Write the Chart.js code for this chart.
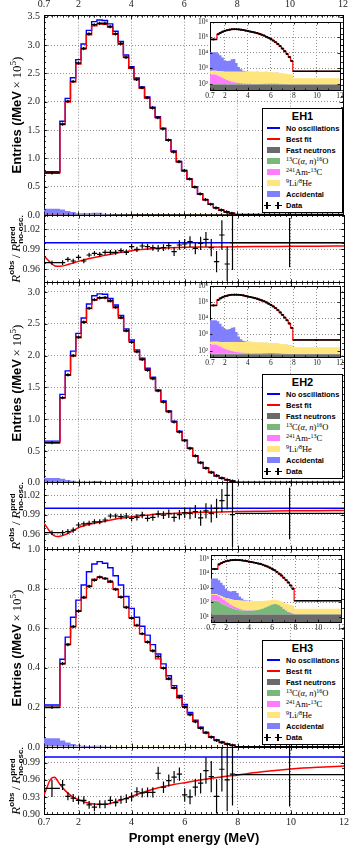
<!DOCTYPE html>
<html><head><meta charset="utf-8">
<script src="https://cdn.jsdelivr.net/npm/chart.js@4.4.1/dist/chart.umd.min.js"></script>
<style>
html,body{margin:0;padding:0;background:#fff;}
#wrap{position:relative;width:353px;height:857px;overflow:hidden;background:#fff;}
#wrap canvas{position:absolute;left:0;top:0;}
.ytitle{position:absolute;white-space:nowrap;transform:translate(-50%,-50%) rotate(-90deg);color:#000;line-height:1;z-index:6;}
.sansb{font-family:'Liberation Sans',Arial,sans-serif;font-weight:bold;}
.serif{font-family:'Liberation Serif','DejaVu Serif',serif;}
.leg{position:absolute;box-sizing:border-box;border:1px solid #000;background:#fff;z-index:5;}
.legT{position:absolute;left:0;right:0;text-align:center;font:bold 11px 'Liberation Sans',Arial,sans-serif;transform:translateY(-50%);}
.legL{position:absolute;left:23px;white-space:nowrap;transform:translateY(-50%);line-height:1;}
.legL.san{font:bold 7.5px 'Liberation Sans',Arial,sans-serif;}
.legL.ser{font:8.5px 'Liberation Serif','DejaVu Serif',serif;}
.legL.ser sup{font-size:6px;vertical-align:3px;line-height:0;}
.xtitle{position:absolute;left:194px;top:837px;transform:translate(-50%,-50%);white-space:nowrap;font:bold 13px 'Liberation Sans',Arial,sans-serif;}
</style>
</head><body>
<div id="wrap"></div>
<script>
// ---------------- data ----------------
const binEdges = [0.7,1.3,1.5,1.7,1.9,2.1,2.3,2.5,2.7,2.9,3.1,3.3,3.5,3.7,3.9,4.1,4.3,4.5,4.7,4.9,5.1,5.3,5.5,5.7,5.9,6.1,6.3,6.5,6.7,6.9,7.1,7.3,7.5,7.7,7.9,12];
const xTicks = [0.7,2,4,6,8,10,12];

// main panels: entries per MeV in units of 1e5
const eh1NoOsc   = [0.765,1.655,2.06,2.425,2.745,3.02,3.26,3.415,3.445,3.435,3.375,3.245,3.065,2.825,2.62,2.42,2.26,2.085,1.905,1.735,1.535,1.33,1.13,0.945,0.785,0.635,0.495,0.372,0.272,0.191,0.131,0.0855,0.0553,0.0302,0.0065];
const eh1BestFit = [0.745,1.599,1.994,2.352,2.668,2.941,3.182,3.340,3.376,3.370,3.318,3.193,3.019,2.788,2.589,2.393,2.237,2.066,1.888,1.721,1.523,1.321,1.122,0.938,0.780,0.631,0.492,0.370,0.270,0.190,0.130,0.0850,0.0550,0.0300,0.0064];
const eh1Data    = [0.742,1.605,2.009,2.358,2.685,2.937,3.200,3.360,3.385,3.385,3.326,3.198,3.028,2.784,2.604,2.396,2.249,2.072,1.891,1.720,1.523,1.324,1.115,0.942,0.783,0.636,0.491,0.372,0.273,0.190,0.127,0.0865,0.0535,0.0302,0.0065];
const eh2NoOsc   = [0.655,1.39,1.76,2.07,2.35,2.59,2.81,2.94,2.97,2.965,2.90,2.795,2.63,2.42,2.245,2.09,1.96,1.80,1.66,1.46,1.285,1.13,0.97,0.81,0.67,0.545,0.425,0.32,0.233,0.164,0.112,0.074,0.047,0.026,0.0046];
const eh2BestFit = [0.630,1.332,1.691,1.998,2.280,2.520,2.740,2.872,2.908,2.909,2.848,2.750,2.591,2.386,2.216,2.065,1.938,1.782,1.643,1.446,1.273,1.120,0.962,0.804,0.665,0.541,0.422,0.318,0.231,0.163,0.111,0.0735,0.0467,0.0258,0.0046];
const eh2Data    = [0.630,1.337,1.696,2.000,2.289,2.527,2.744,2.878,2.908,2.911,2.865,2.761,2.596,2.391,2.210,2.061,1.939,1.772,1.637,1.447,1.272,1.120,0.956,0.802,0.665,0.541,0.423,0.315,0.232,0.163,0.112,0.0749,0.0479,0.0257,0.0045];
const eh3NoOsc   = [0.212,0.443,0.555,0.655,0.742,0.818,0.885,0.924,0.936,0.928,0.905,0.865,0.818,0.76,0.70,0.655,0.61,0.565,0.517,0.47,0.42,0.36,0.31,0.26,0.215,0.175,0.135,0.10,0.074,0.052,0.036,0.024,0.015,0.009,0.0013];
const eh3BestFit = [0.200,0.420,0.519,0.608,0.686,0.753,0.812,0.847,0.857,0.851,0.832,0.797,0.756,0.705,0.652,0.612,0.572,0.531,0.488,0.445,0.399,0.342,0.296,0.249,0.206,0.168,0.130,0.096,0.071,0.050,0.035,0.023,0.0145,0.0087,0.00127];
const eh3Data    = [0.200,0.421,0.517,0.608,0.686,0.756,0.811,0.843,0.858,0.851,0.836,0.796,0.757,0.705,0.651,0.615,0.572,0.530,0.485,0.457,0.398,0.345,0.299,0.252,0.201,0.163,0.128,0.0954,0.0722,0.0502,0.0335,0.0235,0.0144,0.0087,0.00126];

// ratio panels
const eh1RatioData = [0.970,0.970,0.975,0.9725,0.978,0.9725,0.9815,0.984,0.9825,0.9855,0.9855,0.9855,0.988,0.9855,0.994,0.990,0.995,0.994,0.9925,0.9915,0.9925,0.9955,0.9865,0.9965,0.998,1.0015,0.9915,0.999,1.005,0.9925,0.9715,1.0115,0.968,1.000,1.000];
const eh1RatioErr  = [0.003,0.0035,0.0035,0.0035,0.0035,0.0035,0.0035,0.0035,0.0035,0.0035,0.0035,0.0035,0.0035,0.004,0.004,0.004,0.004,0.0045,0.0045,0.005,0.005,0.0055,0.0065,0.007,0.0075,0.008,0.009,0.01,0.011,0.013,0.016,0.022,0.026,0.041,0.037];
const eh2RatioData = [0.962,0.962,0.9636,0.966,0.974,0.9756,0.9766,0.979,0.979,0.9818,0.988,0.988,0.987,0.988,0.9844,0.986,0.9895,0.9844,0.986,0.991,0.9895,0.9915,0.986,0.990,0.993,0.992,0.995,0.985,0.996,0.992,1.000,1.012,1.020,0.990,0.992];
const eh2RatioErr  = [0.0035,0.004,0.004,0.004,0.004,0.004,0.004,0.004,0.004,0.004,0.004,0.004,0.0045,0.0045,0.0045,0.005,0.005,0.005,0.0055,0.0055,0.006,0.0065,0.007,0.0075,0.008,0.009,0.01,0.012,0.012,0.014,0.015,0.018,0.022,0.05,0.04];
const eh3RatioData = [0.945,0.951,0.931,0.928,0.924,0.924,0.916,0.912,0.917,0.917,0.924,0.920,0.925,0.927,0.930,0.939,0.937,0.938,0.938,0.9715,0.947,0.9586,0.9645,0.970,0.9337,0.930,0.947,0.954,0.976,0.9656,0.931,0.9785,0.960,0.970,0.969];
const eh3RatioErr  = [0.015,0.0087,0.007,0.007,0.007,0.007,0.007,0.007,0.007,0.007,0.007,0.007,0.007,0.0075,0.0075,0.008,0.008,0.0085,0.009,0.0115,0.01,0.0105,0.011,0.0115,0.0116,0.013,0.015,0.018,0.023,0.0275,0.030,0.039,0.055,0.055,0.056];
const fitEnergy   = [0.7,0.8,0.9,1.0,1.1,1.2,1.3,1.5,1.75,2.0,2.5,3.0,3.5,4.0,4.5,5.0,5.5,6.0,7.0,8.0,9.0,10.0,11.0,12.0];
const eh1FitRatio = [0.980,0.976,0.972,0.968,0.9655,0.9646,0.9648,0.966,0.969,0.972,0.977,0.981,0.985,0.988,0.990,0.9915,0.9925,0.993,0.9935,0.994,0.9942,0.9945,0.9947,0.995];
const eh2FitRatio = [0.9766,0.971,0.965,0.960,0.957,0.956,0.9565,0.959,0.964,0.970,0.976,0.980,0.984,0.987,0.989,0.991,0.992,0.993,0.994,0.995,0.9955,0.996,0.9962,0.9965];
const eh3FitRatio = [0.9337,0.945,0.957,0.9635,0.9645,0.959,0.952,0.941,0.931,0.925,0.918,0.917,0.923,0.931,0.939,0.946,0.951,0.955,0.9625,0.9686,0.9745,0.979,0.982,0.984];
const noOscRatioEnergy = [0.7,12];
const noOscRatio = [1,1];

// backgrounds, entries per MeV
const eh1FastN = [90,90,90,90,90,90,90,90,90,90,90,90,90,90,90,90,90,90,90,90,90,90,90,90,90,90,90,90,90,90,90,90,90,90,90];
const eh1C13   = [8,8,7,6,6,5,5,4,4,4,4,4,4,4,4,4,4,5,5,6,7,8,9,10,11,11,10,9,7,5,3,2,1,1,0.5];
const eh1AmC   = [300,240,190,140,105,80,60,45,35,27,21,16,12,9,7,6,5,4,3.5,3,2.5,2,2,1.5,1.5,1.2,1,1,1,1,1,1,1,1,1];
const eh1Li9   = [300,330,360,390,410,430,450,470,480,490,500,505,510,515,520,520,520,520,515,510,505,500,490,480,470,460,450,430,410,390,370,350,330,310,140];
const eh1Acc   = [10500,9000,6300,4500,2700,2400,2500,3300,3400,1600,600,250,100,50,30,20,15,12,10,8,7,6,5,4,3,3,2,2,2,2,1,1,1,1,0.5];
const eh2FastN = [60,60,60,60,60,60,60,60,60,60,60,60,60,60,60,60,60,60,60,60,60,60,60,60,60,60,60,60,60,60,60,60,60,60,60];
const eh2C13   = [7,7,6,6,5,5,4,4,4,4,4,4,4,4,4,4,4,5,5,6,7,8,9,10,10,10,9,8,6,4,3,2,1,1,0.5];
const eh2AmC   = [170,140,110,85,65,50,38,30,24,19,15,12,9,7,6,5,4,3.5,3,2.5,2,2,1.5,1.5,1.2,1,1,1,1,1,1,1,1,1,1];
const eh2Li9   = [120,140,160,180,200,215,230,240,250,255,260,262,265,265,265,265,262,260,258,255,250,245,240,235,230,225,220,210,200,190,180,170,160,150,100];
const eh2Acc   = [7300,6200,4200,2800,1900,1700,1800,2300,2400,1100,400,170,70,35,20,14,10,8,7,6,5,4,3.5,3,2.5,2,2,1.5,1.5,1.5,1,1,1,1,0.5];
const eh3FastN = [14,14,14,14,14,14,14,14,14,14,14,14,14,14,14,14,14,14,14,14,14,14,14,14,14,14,14,14,14,14,14,14,14,14,14];
const eh3C13   = [110,90,70,55,42,35,28,22,18,15,13,12,11,11,11,11,12,13,15,18,22,28,36,45,55,60,58,48,34,20,12,7,4,2,0.5];
const eh3AmC   = [190,150,110,80,55,40,28,20,14,10,7,5,4,3,2.5,2,1.5,1.2,1,1,1,1,1,1,1,1,1,1,1,1,1,1,1,0.5,0.3];
const eh3Li9   = [50,60,70,78,85,90,92,94,95,96,96,96,95,95,94,93,92,90,88,86,84,82,80,78,75,72,70,66,62,58,54,50,45,40,20];
const eh3Acc   = [4000,3000,2000,1300,650,450,400,450,450,300,120,50,20,10,6,4,3,2.5,2,2,1.5,1.5,1,1,1,1,1,1,1,1,1,1,1,1,0.3];

// tick values
const eh1MainTicks = [0,0.5,1,1.5,2,2.5,3,3.5];
const eh2MainTicks = [0,0.5,1,1.5,2,2.5,3];
const eh3MainTicks = [0,0.2,0.4,0.6,0.8,1.0];
const nearRatioTicks = [0.96,0.99,1.02];
const farRatioTicks = [0.90,0.93,0.96,0.99];
const nearInsetTicks = [1e2,1e3,1e4,1e5,1e6];
const farInsetTicks = [1e1,1e2,1e3,1e4,1e5];

const hallNames = ['EH1','EH2','EH3'];
const legendLabels = ['No oscillations','Best fit','Fast neutrons','<sup>13</sup>C(<i>α</i>, <i>n</i>)<sup>16</sup>O','<sup>241</sup>Am-<sup>13</sup>C','<sup>9</sup>Li/<sup>8</sup>He','Accidental','Data'];

// ---------------- drawing ----------------
const W = 353, H = 857;
const COL = { noOsc:'#0000ff', fit:'#ff0000', fastN:'#6a6a6a', c13:'#78b878', amc:'#ff7cff', li9:'#ffe57c', acc:'#8080ff' };
const serifFont = "'Liberation Serif','DejaVu Serif',serif";
const gridCol = '#8f8f8f';
const SUPS = {'0':'⁰','1':'¹','2':'²','3':'³','4':'⁴','5':'⁵','6':'⁶','7':'⁷','8':'⁸','9':'⁹','-':'⁻'};
const supStr = n => String(n).split('').map(c => SUPS[c]).join('');
const wrap = document.getElementById('wrap');
Chart.defaults.font.family = serifFont;

const nb = binEdges.length - 1;
function stepPts(vals, k) {
  const p = vals.map((v, i) => ({ x: binEdges[i], y: v * k }));
  p.push({ x: binEdges[nb], y: vals[nb - 1] * k });
  return p;
}
function hBarPts(vals, k) {
  const p = [];
  vals.forEach((v, i) => { p.push({x: binEdges[i], y: v*k}, {x: binEdges[i+1], y: v*k}, {x: binEdges[i+1], y: null}); });
  return p;
}
function centerPts(vals, k) { return vals.map((v, i) => ({ x: (binEdges[i] + binEdges[i+1]) / 2, y: v * k })); }
function vBarPts(vals, errs) {
  const p = [];
  vals.forEach((v, i) => { const c = (binEdges[i] + binEdges[i+1]) / 2; p.push({x: c, y: v - errs[i]}, {x: c, y: v + errs[i]}, {x: c, y: null}); });
  return p;
}
function ds(o) { return Object.assign({ xAxisID: 'x', yAxisID: 'y', pointRadius: 0, fill: false, borderWidth: 1.4, borderColor: '#000', backgroundColor: '#000' }, o); }
function bgSets(bg, k, isLog) {
  const cols = [COL.fastN, COL.c13, COL.amc, COL.li9, COL.acc];
  return bg.map((vals, i) => ds({ data: stepPts(vals, k), stepped: 'before', stack: 'bg', borderColor: 'rgba(0,0,0,0)', borderWidth: 1,
    backgroundColor: cols[i], fill: i === 0 ? (isLog ? 'start' : 'origin') : '-1' }));
}
const fixedTicks = vals => s => { s.ticks = vals.map(v => ({ value: v })); };
function range(a, b, step) { const r = []; for (let v = a; v <= b + 1e-9; v += step) r.push(+v.toFixed(6)); return r; }

const whiteArea = { id: 'whiteArea', beforeDraw(chart) { const a = chart.chartArea, c = chart.ctx; c.save(); c.fillStyle = '#fff'; c.fillRect(a.left, a.top, a.right - a.left, a.bottom - a.top); c.restore(); } };
// inward tick marks on all four frame sides, placed through the chart's own scales
const frameTicks = { id: 'frameTicks', afterDraw(chart, args, o) {
  if (!o || !o.x) return;
  const a = chart.chartArea, c = chart.ctx, xs = chart.scales.x, ys = chart.scales.y;
  c.save(); c.strokeStyle = '#000'; c.lineWidth = 0.8; c.beginPath();
  const mark = (vals, len, horiz) => vals.forEach(v => {
    if (horiz) { const px = Math.round(xs.getPixelForValue(v)) + 0.5; if (px < a.left || px > a.right) return;
      c.moveTo(px, a.bottom); c.lineTo(px, a.bottom - len); c.moveTo(px, a.top); c.lineTo(px, a.top + len); }
    else { const py = Math.round(ys.getPixelForValue(v)) + 0.5; if (py < a.top || py > a.bottom) return;
      c.moveTo(a.left, py); c.lineTo(a.left + len, py); c.moveTo(a.right, py); c.lineTo(a.right - len, py); }
  });
  mark(o.x, o.minLen, true); mark(o.xMajor, o.majLen, true);
  mark(o.y, o.minLen, false); mark(o.yMajor, o.majLen, false);
  c.stroke(); c.restore();
} };

function makeChart(p) {
  const cv = document.createElement('canvas');
  cv.width = W; cv.height = H;
  wrap.appendChild(cv);
  const tf = { family: serifFont, size: p.fs || 10 };
  const yType = p.log ? 'logarithmic' : 'linear';
  return new Chart(cv, {
    type: 'line',
    data: { datasets: p.datasets },
    plugins: (p.white ? [whiteArea] : []).concat([frameTicks]),
    options: {
      responsive: false, animation: false, devicePixelRatio: 1, events: [],
      layout: { padding: { left: 0, right: W - p.R, top: p.topLabels ? 0 : p.T, bottom: p.bottomLabels ? 0 : H - p.B } },
      plugins: { legend: { display: false }, tooltip: { enabled: false },
        frameTicks: { x: p.xMinor, xMajor: xTicks, y: p.yMinor || [], yMajor: p.yTicks, minLen: p.minLen || 2, majLen: p.majLen || 3.5 } },
      scales: {
        x: { type: 'linear', position: 'bottom', min: 0.7, max: 12,
          afterBuildTicks: fixedTicks(xTicks), afterFit: s => { s.height = p.bottomLabels ? H - p.B : 0; },
          ticks: { display: !!p.bottomLabels, font: tf, color: '#222', padding: p.xPad || 2, maxRotation: 0, autoSkip: false, callback: v => String(v) },
          grid: { color: gridCol, lineWidth: 1, drawTicks: false },
          border: { display: true, color: '#000', width: 1, dash: [1, 2] } },
        x2: { type: 'linear', position: 'top', min: 0.7, max: 12,
          afterBuildTicks: fixedTicks(xTicks), afterFit: s => { s.height = p.topLabels ? p.T : 0; },
          ticks: { display: !!p.topLabels, font: tf, color: '#222', padding: 5, maxRotation: 0, autoSkip: false, callback: v => String(v) },
          grid: { drawOnChartArea: false, drawTicks: false },
          border: { display: true, color: '#000', width: 1 } },
        y: { type: yType, position: 'left', min: p.yMin, max: p.yMax, stacked: !!p.stacked,
          afterBuildTicks: fixedTicks(p.yTicks), afterFit: s => { s.width = p.L; },
          ticks: { font: tf, color: '#222', padding: p.yPad || 4, autoSkip: false, callback: p.yFmt },
          grid: { color: gridCol, lineWidth: 1, drawTicks: false },
          border: { display: true, color: '#000', width: 1, dash: [1, 2] } },
        y2: { type: yType, position: 'right', min: p.yMin, max: p.yMax,
          afterFit: s => { s.width = 0; },
          ticks: { display: false }, grid: { drawOnChartArea: false, drawTicks: false },
          border: { display: true, color: '#000', width: 1 } }
      }
    }
  });
}

const xMinorMain = range(0.8, 12, 0.2);
const xMinorInset = range(1, 12, 1);
const halls = [
  { noOsc: eh1NoOsc, fit: eh1BestFit, data: eh1Data, rData: eh1RatioData, rErr: eh1RatioErr, rFit: eh1FitRatio,
    bg: [eh1FastN, eh1C13, eh1AmC, eh1Li9, eh1Acc],
    main: { T: 15.7, B: 215, yMin: 0, yMax: 3.52, ticks: eh1MainTicks, minor: range(0.1, 3.5, 0.1), topLabels: true },
    ratio: { T: 215, B: 282.7, yMin: 0.94, yMax: 1.0415, ticks: nearRatioTicks, minor: range(0.94, 1.04, 0.01) },
    inset: { L: 210, R: 340, T: 22, B: 90, yMin: 40, yMax: 1e6, ticks: nearInsetTicks },
    legTop: 108, titleY: 115, ratioY: 249 },
  { noOsc: eh2NoOsc, fit: eh2BestFit, data: eh2Data, rData: eh2RatioData, rErr: eh2RatioErr, rFit: eh2FitRatio,
    bg: [eh2FastN, eh2C13, eh2AmC, eh2Li9, eh2Acc],
    main: { T: 282.7, B: 482.8, yMin: 0, yMax: 3.146, ticks: eh2MainTicks, minor: range(0.1, 3.1, 0.1) },
    ratio: { T: 482.8, B: 549, yMin: 0.9367, yMax: 1.0396, ticks: nearRatioTicks, minor: range(0.94, 1.03, 0.01) },
    inset: { L: 210, R: 340, T: 286, B: 357, yMin: 40, yMax: 1e6, ticks: nearInsetTicks },
    legTop: 374, titleY: 383, ratioY: 516 },
  { noOsc: eh3NoOsc, fit: eh3BestFit, data: eh3Data, rData: eh3RatioData, rErr: eh3RatioErr, rFit: eh3FitRatio,
    bg: [eh3FastN, eh3C13, eh3AmC, eh3Li9, eh3Acc],
    main: { T: 549, B: 747, yMin: 0, yMax: 1.0, ticks: eh3MainTicks, minor: range(0.05, 1.0, 0.05) },
    ratio: { T: 747, B: 814, yMin: 0.90, yMax: 1.0175, ticks: farRatioTicks, minor: range(0.90, 1.01, 0.01), bottomLabels: true },
    inset: { L: 211, R: 341.5, T: 555, B: 622, yMin: 4.2, yMax: 1.9e5, ticks: farInsetTicks },
    legTop: 640, titleY: 648, ratioY: 780.5 }
];

// main panels
halls.forEach(h => {
  makeChart({ L: 44, R: 344, T: h.main.T, B: h.main.B, yMin: h.main.yMin, yMax: h.main.yMax, yTicks: h.main.ticks,
    xMinor: xMinorMain, yMinor: h.main.minor,
    topLabels: h.main.topLabels, stacked: true, yFmt: v => v.toFixed(1),
    datasets: [
      ds({ data: centerPts(h.data, 1), showLine: false, pointStyle: 'line', pointRotation: 90, pointRadius: 1.6, pointBorderWidth: 1.2, pointBorderColor: '#000', stack: 'm1' }),
      ds({ data: hBarPts(h.data, 1), borderWidth: 1.7, stack: 'm2' }),
      ds({ data: stepPts(h.fit, 1), stepped: 'before', borderColor: COL.fit, borderWidth: 1.4, stack: 'm3' }),
      ds({ data: stepPts(h.noOsc, 1), stepped: 'before', borderColor: COL.noOsc, borderWidth: 1.4, stack: 'm4' }),
      ...bgSets(h.bg, 1e-5, false)
    ] });
});
// ratio panels
halls.forEach(h => {
  makeChart({ L: 44, R: 344, T: h.ratio.T, B: h.ratio.B, yMin: h.ratio.yMin, yMax: h.ratio.yMax, yTicks: h.ratio.ticks,
    xMinor: xMinorMain, yMinor: h.ratio.minor,
    bottomLabels: h.ratio.bottomLabels, yFmt: v => v.toFixed(2),
    datasets: [
      ds({ data: vBarPts(h.rData, h.rErr), borderWidth: 1.2 }),
      ds({ data: hBarPts(h.rData, 1), borderWidth: 1.2 }),
      ds({ data: fitEnergy.map((e, i) => ({ x: e, y: h.rFit[i] })), borderColor: COL.fit, borderWidth: 1.5, cubicInterpolationMode: 'monotone' }),
      ds({ data: noOscRatioEnergy.map((e, i) => ({ x: e, y: noOscRatio[i] })), borderColor: COL.noOsc, borderWidth: 1.6 })
    ] });
});
// insets
halls.forEach(h => {
  const s = h.inset;
  makeChart({ L: s.L, R: s.R, T: s.T, B: s.B, yMin: s.yMin, yMax: s.yMax, yTicks: s.ticks, log: true, stacked: true,
    xMinor: xMinorInset, yMinor: [], minLen: 1.5, majLen: 2.5,
    white: true, fs: 7.5, xPad: 2, yPad: 2, bottomLabels: false,
    yFmt: v => '10' + supStr(Math.round(Math.log10(v))),
    datasets: [
      ds({ data: centerPts(h.data, 1e5), showLine: false, pointRadius: 1.1, pointBorderWidth: 0, pointBackgroundColor: '#000', stack: 'i1' }),
      ds({ data: hBarPts(h.data, 1e5), borderWidth: 1.5, stack: 'i2' }),
      ds({ data: stepPts(h.fit, 1e5), stepped: 'before', borderColor: COL.fit, borderWidth: 1.2, stack: 'i3' }),
      ...bgSets(h.bg, 1, true)
    ] });
});
// inset x tick labels under each inset
halls.forEach(h => {
  const s = h.inset;
  const cv = document.createElement('canvas'); cv.width = W; cv.height = H; wrap.appendChild(cv);
  new Chart(cv, { type: 'line', data: { datasets: [] },
    options: { responsive: false, animation: false, devicePixelRatio: 1, events: [],
      layout: { padding: { left: s.L, right: W - s.R, top: s.T, bottom: 0 } },
      plugins: { legend: { display: false }, tooltip: { enabled: false } },
      scales: {
        x: { type: 'linear', min: 0.7, max: 12, afterBuildTicks: fixedTicks(xTicks), afterFit: sc => { sc.height = H - s.B; },
          ticks: { font: { family: serifFont, size: 7.5 }, color: '#222', padding: 2, maxRotation: 0, autoSkip: false, callback: v => String(v) },
          grid: { display: false, drawTicks: false }, border: { display: false } },
        y: { display: false, min: 0, max: 1 }
      } } });
});

// titles and legends
halls.forEach((h, i) => {
  const t = document.createElement('div');
  t.className = 'ytitle';
  t.style.left = '16px'; t.style.top = h.titleY + 'px';
  t.innerHTML = '<span class="sansb" style="font-size:13px">Entries (/MeV</span><span class="serif" style="font-size:13px">&thinsp;×&thinsp;10<sup style="font-size:9px;vertical-align:5px;line-height:0">5</sup>)</span>';
  wrap.appendChild(t);
  const r = document.createElement('div');
  r.className = 'ytitle';
  r.style.left = '16px'; r.style.top = h.ratioY + 'px';
  r.innerHTML = '<span class="serif" style="font-size:13px;font-style:italic">R</span><span class="sansb" style="font-size:8px;vertical-align:6px;line-height:0">obs</span>' +
    '<span class="serif" style="font-size:13px">&thinsp;/&thinsp;</span><span class="serif" style="font-size:13px;font-style:italic">R</span>' +
    '<span class="sansb" style="display:inline-block;font-size:8px;line-height:8px;vertical-align:-3px;text-align:left"><span style="display:block">pred</span><span style="display:block">no-osc.</span></span>';
  wrap.appendChild(r);

  const box = document.createElement('div');
  box.className = 'leg';
  box.style.cssText = `left:262px;top:${h.legTop}px;width:81px;height:105px;`;
  let html = `<div class="legT" style="top:7px">${hallNames[i]}</div>`;
  const kinds = ['line','line','patch','patch','patch','patch','patch','data'];
  const cols = [COL.noOsc, COL.fit, COL.fastN, COL.c13, COL.amc, COL.li9, COL.acc, '#000'];
  const serifRow = [false,false,false,true,true,true,false,false];
  legendLabels.forEach((lab, k) => {
    const cy = 19 + k * 11.06;
    if (kinds[k] === 'line') html += `<div style="position:absolute;left:4px;top:${cy - 1}px;width:13px;height:2px;background:${cols[k]}"></div>`;
    else if (kinds[k] === 'patch') html += `<div style="position:absolute;left:4px;top:${cy - 3}px;width:13px;height:6px;background:${cols[k]}"></div>`;
    else {
      [4, 15].forEach(cx => {
        html += `<div style="position:absolute;left:${cx - 3.5}px;top:${cy - 0.6}px;width:7px;height:1.3px;background:#000"></div>`;
        html += `<div style="position:absolute;left:${cx - 0.6}px;top:${cy - 3.5}px;width:1.3px;height:7px;background:#000"></div>`;
      });
    }
    html += `<div class="legL ${serifRow[k] ? 'ser' : 'san'}" style="top:${cy}px">${lab}</div>`;
  });
  box.innerHTML = html;
  wrap.appendChild(box);
});
const xt = document.createElement('div');
xt.className = 'xtitle';
xt.textContent = 'Prompt energy (MeV)';
wrap.appendChild(xt);
</script>
</body></html>
